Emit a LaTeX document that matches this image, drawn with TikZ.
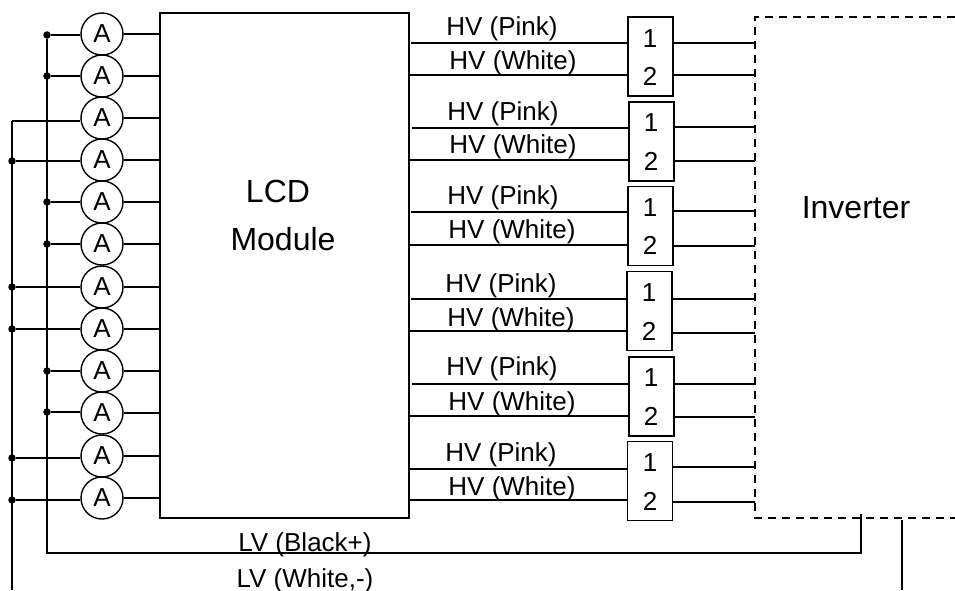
\documentclass[tikz,border=0pt]{standalone}
\usepackage{fontspec}
\setmainfont{Liberation Sans}
\tikzset{
   wire/.style={line width=1.5pt},
   meter/.style={draw, circle, line width=1.4pt, minimum size=42pt, inner sep=0pt, font=\fontsize{26}{26}\selectfont},
   dot/.style={fill, circle, minimum size=7.5pt, inner sep=0pt},
   conn/.style={draw, line width=1.5pt, minimum width=45pt, minimum height=79pt, inner sep=0pt},
   hv/.style={inner sep=0pt, font=\fontsize{26}{26}\selectfont},
   big/.style={inner sep=0pt, font=\fontsize{32}{32}\selectfont}
}

\begin{document}
\begin{tikzpicture}[x=1pt, y=-1pt]
   \useasboundingbox (0,0) rectangle (955,590);
   \def\busa{47}
   \def\busb{12}
   \def\invx{755}
   \def\invy{17}
   % LCD module
   \node[draw, wire, minimum width=249pt, minimum height=505pt, inner sep=0pt] (lcd) at (284.5,265.5) {};
   \node[big] (lcdtop) at (278,191) {LCD};
   \node[big] (lcdbot) at (283,239) {Module};
   % inverter
   \coordinate (invtl) at (\invx,\invy);
   \coordinate (invbl) at (\invx,518);
   \draw[wire, dashed, dash pattern=on 8pt off 6pt] (955,\invy) -- (invtl) -- (invbl) -- (955,518);
   \node[big] (inv) at (856,208) {Inverter};
   % ammeters
   \node[meter] (m1) at (102,34) {A};
   \node[meter] (m2) at (102,76) {A};
   \node[meter] (m3) at (102,118) {A};
   \node[meter] (m4) at (102,160) {A};
   \node[meter] (m5) at (102,202) {A};
   \node[meter] (m6) at (102,244) {A};
   \node[meter] (m7) at (102,287) {A};
   \node[meter] (m8) at (102,329) {A};
   \node[meter] (m9) at (102,371) {A};
   \node[meter] (m10) at (102,413) {A};
   \node[meter] (m11) at (102,456) {A};
   \node[meter] (m12) at (102,498) {A};
   % black bus
   \node[dot] (d1) at (\busa,35) {};
   \node[dot] (d2) at (\busa,76) {};
   \node[dot] (d5) at (\busa,202) {};
   \node[dot] (d6) at (\busa,244) {};
   \node[dot] (d9) at (\busa,371) {};
   \node[dot] (d10) at (\busa,412) {};
   \coordinate (blk1) at (\busa,553);
   \coordinate (blk2) at (861,553);
   \coordinate (blk3) at (861,514);
   \draw[wire] (d1) -- (blk1) -- (blk2) -- (blk3);
   % white bus
   \coordinate (d3) at (\busb,121);
   \node[dot] (d4) at (\busb,161) {};
   \node[dot] (d7) at (\busb,287) {};
   \node[dot] (d8) at (\busb,329) {};
   \node[dot] (d11) at (\busb,458) {};
   \node[dot] (d12) at (\busb,500) {};
   \coordinate (wht1) at (\busb,590);
   \coordinate (wht2) at (902,590);
   \coordinate (wht3) at (902,520);
   \draw[wire] (d3) -- (wht1);
   \draw[wire] (wht2) -- (wht3);
   \node[hv] (lvb) at (305,545) {LV (Black+)};
   \node[hv] (lvw) at (305,581) {LV (White,-)};
   % meter wires
   \draw[wire] (d1) -- (d1 -| m1.west);
   \draw[wire] (d2) -- (d2 -| m2.west);
   \draw[wire] (d3) -- (d3 -| m3.west);
   \draw[wire] (d4) -- (d4 -| m4.west);
   \draw[wire] (d5) -- (d5 -| m5.west);
   \draw[wire] (d6) -- (d6 -| m6.west);
   \draw[wire] (d7) -- (d7 -| m7.west);
   \draw[wire] (d8) -- (d8 -| m8.west);
   \draw[wire] (d9) -- (d9 -| m9.west);
   \draw[wire] (d10) -- (d10 -| m10.west);
   \draw[wire] (d11) -- (d11 -| m11.west);
   \draw[wire] (d12) -- (d12 -| m12.west);
   \draw[wire] (m1.east) -- (m1.east -| lcd.west);
   \draw[wire] (m2.east) -- (m2.east -| lcd.west);
   \draw[wire] (m3.east) -- (m3.east -| lcd.west);
   \draw[wire] (m4.east) -- (m4.east -| lcd.west);
   \draw[wire] (m5.east) -- (m5.east -| lcd.west);
   \draw[wire] (m6.east) -- (m6.east -| lcd.west);
   \draw[wire] (m7.east) -- (m7.east -| lcd.west);
   \draw[wire] (m8.east) -- (m8.east -| lcd.west);
   \draw[wire] (m9.east) -- (m9.east -| lcd.west);
   \draw[wire] (m10.east) -- (m10.east -| lcd.west);
   \draw[wire] (m11.east) -- (m11.east -| lcd.west);
   \draw[wire] (m12.east) -- (m12.east -| lcd.west);
   % connectors
   \node[conn] (c1) at (650.5,56.5) {};
   \node[hv] (c1a) at (650,39) {1};
   \node[hv] (c1b) at (650,76) {2};
   \node[conn] (c2) at (651.5,141.5) {};
   \node[hv] (c2a) at (651,123) {1};
   \node[hv] (c2b) at (651,161) {2};
   \node[conn] (c3) at (650.5,226) {};
   \node[hv] (c3a) at (650,208) {1};
   \node[hv] (c3b) at (650,245) {2};
   \node[conn] (c4) at (649.5,311) {};
   \node[hv] (c4a) at (649,293) {1};
   \node[hv] (c4b) at (649,331) {2};
   \node[conn] (c5) at (651.5,396.5) {};
   \node[hv] (c5a) at (651,378) {1};
   \node[hv] (c5b) at (651,416) {2};
   \node[conn] (c6) at (650,481) {};
   \node[hv] (c6a) at (650,463) {1};
   \node[hv] (c6b) at (650,501) {2};
   % hv wires
   \coordinate (p1) at (411,43);
   \coordinate (w1) at (409,75);
   \coordinate (p2) at (412,128);
   \coordinate (w2) at (410,160);
   \coordinate (p3) at (411,212);
   \coordinate (w3) at (409,245);
   \coordinate (p4) at (411,299);
   \coordinate (w4) at (409,331);
   \coordinate (p5) at (412,384);
   \coordinate (w5) at (409,416);
   \coordinate (p6) at (409,469);
   \coordinate (w6) at (409,500);
   \draw[wire] (p1) -- (p1 -| c1.west);
   \draw[wire] (w1) -- (w1 -| c1.west);
   \draw[wire] (p2) -- (p2 -| c2.west);
   \draw[wire] (w2) -- (w2 -| c2.west);
   \draw[wire] (p3) -- (p3 -| c3.west);
   \draw[wire] (w3) -- (w3 -| c3.west);
   \draw[wire] (p4) -- (p4 -| c4.west);
   \draw[wire] (w4) -- (w4 -| c4.west);
   \draw[wire] (p5) -- (p5 -| c5.west);
   \draw[wire] (w5) -- (w5 -| c5.west);
   \draw[wire] (p6) -- (p6 -| c6.west);
   \draw[wire] (w6) -- (w6 -| c6.west);
   \coordinate (q1) at (\invx,43);
   \coordinate (r1) at (\invx,75);
   \coordinate (q2) at (\invx,127);
   \coordinate (r2) at (\invx,161);
   \coordinate (q3) at (\invx,211);
   \coordinate (r3) at (\invx,246);
   \coordinate (q4) at (\invx,299);
   \coordinate (r4) at (\invx,333);
   \coordinate (q5) at (\invx,384);
   \coordinate (r5) at (\invx,417);
   \coordinate (q6) at (\invx,467);
   \coordinate (r6) at (\invx,502);
   \draw[wire] (c1.east |- q1) -- (q1);
   \draw[wire] (c1.east |- r1) -- (r1);
   \draw[wire] (c2.east |- q2) -- (q2);
   \draw[wire] (c2.east |- r2) -- (r2);
   \draw[wire] (c3.east |- q3) -- (q3);
   \draw[wire] (c3.east |- r3) -- (r3);
   \draw[wire] (c4.east |- q4) -- (q4);
   \draw[wire] (c4.east |- r4) -- (r4);
   \draw[wire] (c5.east |- q5) -- (q5);
   \draw[wire] (c5.east |- r5) -- (r5);
   \draw[wire] (c6.east |- q6) -- (q6);
   \draw[wire] (c6.east |- r6) -- (r6);
   % hv labels
   \node[hv] (hp1) at (502,29) {HV (Pink)};
   \node[hv] (hw1) at (513,63) {HV (White)};
   \node[hv] (hp2) at (503,114) {HV (Pink)};
   \node[hv] (hw2) at (513,147) {HV (White)};
   \node[hv] (hp3) at (503,198) {HV (Pink)};
   \node[hv] (hw3) at (512,232) {HV (White)};
   \node[hv] (hp4) at (501,286) {HV (Pink)};
   \node[hv] (hw4) at (511,320) {HV (White)};
   \node[hv] (hp5) at (502,369) {HV (Pink)};
   \node[hv] (hw5) at (512,404) {HV (White)};
   \node[hv] (hp6) at (501,455) {HV (Pink)};
   \node[hv] (hw6) at (512,489) {HV (White)};
\end{tikzpicture}
\end{document}
